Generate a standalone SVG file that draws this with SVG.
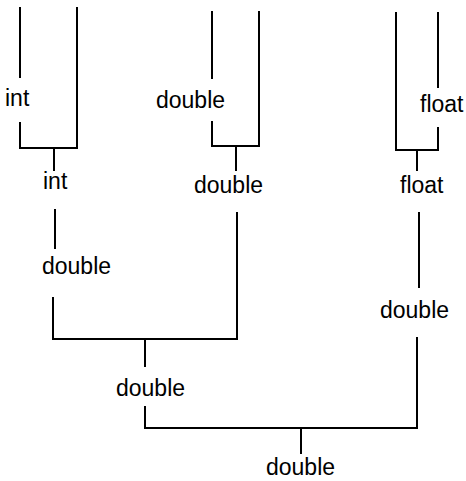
<svg xmlns="http://www.w3.org/2000/svg" width="466" height="481" viewBox="0 0 466 481">
<style>
.t{font-family:"Liberation Sans",Arial,Helvetica,sans-serif;font-size:23px;fill:#000}
.c line{stroke:#000;stroke-width:2;stroke-linecap:square}
</style>
<rect width="466" height="481" fill="#fff"/>
<g id="connectors" class="c">
<line x1="20" y1="8" x2="20" y2="77"/>
<line x1="20" y1="123" x2="20" y2="148"/>
<line x1="77" y1="8" x2="77" y2="148"/>
<line x1="20" y1="148" x2="77" y2="148"/>
<line x1="54" y1="148" x2="54" y2="170"/>
<line x1="55" y1="210" x2="55" y2="248"/>
<line x1="212" y1="12" x2="212" y2="78"/>
<line x1="212" y1="122" x2="212" y2="146"/>
<line x1="259" y1="12" x2="259" y2="146"/>
<line x1="212" y1="146" x2="259" y2="146"/>
<line x1="236" y1="146" x2="236" y2="170"/>
<line x1="396" y1="13" x2="396" y2="150"/>
<line x1="438" y1="13" x2="438" y2="87"/>
<line x1="438" y1="128" x2="438" y2="150"/>
<line x1="396" y1="150" x2="438" y2="150"/>
<line x1="417" y1="150" x2="417" y2="170"/>
<line x1="419" y1="213" x2="419" y2="287"/>
<line x1="53" y1="298" x2="53" y2="339"/>
<line x1="237" y1="213" x2="237" y2="339"/>
<line x1="53" y1="339" x2="237" y2="339"/>
<line x1="145" y1="339" x2="145" y2="366"/>
<line x1="145" y1="407" x2="145" y2="428"/>
<line x1="145" y1="428" x2="417" y2="428"/>
<line x1="417" y1="338" x2="417" y2="428"/>
<line x1="301" y1="428" x2="301" y2="453"/>
</g>
<g id="n1"><text class="t" x="5" y="106">int</text></g>
<g id="n2"><text class="t" x="156" y="108">double</text></g>
<g id="n3"><text class="t" x="420" y="112">float</text></g>
<g id="n4"><text class="t" x="43" y="189">int</text></g>
<g id="n5"><text class="t" x="194" y="193">double</text></g>
<g id="n6"><text class="t" x="400" y="193">float</text></g>
<g id="n7"><text class="t" x="42" y="274">double</text></g>
<g id="n8"><text class="t" x="380" y="318">double</text></g>
<g id="n9"><text class="t" x="116" y="396">double</text></g>
<g id="n10"><text class="t" x="266" y="475">double</text></g>
</svg>
